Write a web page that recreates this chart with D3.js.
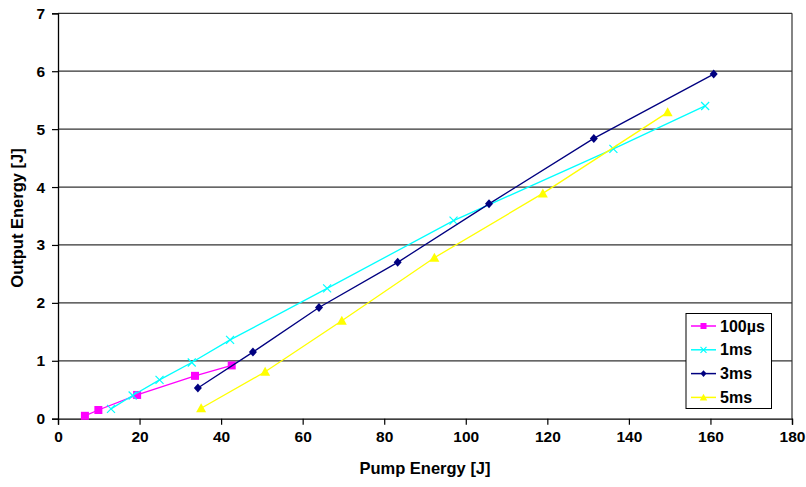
<!DOCTYPE html>
<html>
<head>
<meta charset="utf-8">
<script src="https://cdn.jsdelivr.net/npm/d3@7"></script>
<style>
  html, body { margin: 0; padding: 0; background: #fff; }
  svg { display: block; font-family: Arial, "Liberation Sans", sans-serif; }
</style>
</head>
<body>
<svg id="chart" width="806" height="487"></svg>
<script>
const xTicks = [0, 20, 40, 60, 80, 100, 120, 140, 160, 180];
const yTicks = [0, 1, 2, 3, 4, 5, 6, 7];

const seriesNames = ["100µs", "1ms", "3ms", "5ms"];
const seriesColors = ["#ff00ff", "#00ffff", "#000080", "#ffff00"];
const seriesSymbols = ["square", "cross", "diamond", "triangle"];

const x100us = [6.6, 9.9, 19.4, 33.6, 42.6];
const y100us = [0.05, 0.15, 0.41, 0.74, 0.92];

const x1ms = [13.0, 18.3, 24.9, 32.8, 42.2, 66.0, 97.0, 136.2, 158.7];
const y1ms = [0.17, 0.40, 0.67, 0.97, 1.36, 2.25, 3.42, 4.66, 5.40];

const x3ms = [34.3, 47.8, 64.0, 83.3, 105.7, 131.4, 160.8];
const y3ms = [0.53, 1.15, 1.92, 2.70, 3.71, 4.84, 5.95];

const x5ms = [35.1, 50.8, 69.6, 92.3, 118.9, 149.5];
const y5ms = [0.18, 0.81, 1.69, 2.78, 3.89, 5.29];

const seriesX = [x100us, x1ms, x3ms, x5ms];
const seriesY = [y100us, y1ms, y3ms, y5ms];

const svg = d3.select("#chart");
const pLeft = 58, pRight = 792, pTop = 13.3, pBottom = 418.7;

const x = d3.scaleLinear().domain([0, 180]).range([pLeft, pRight]);
const y = d3.scaleLinear().domain([0, 7]).range([pBottom, pTop]);

// gridlines
svg.append("g").selectAll("line").data(yTicks.filter(d => d > 0)).join("line")
  .attr("x1", pLeft).attr("x2", pRight)
  .attr("y1", d => y(d)).attr("y2", d => y(d))
  .attr("stroke", "#333").attr("stroke-width", 1.2);

// right border
svg.append("line").attr("x1", pRight).attr("x2", pRight).attr("y1", pTop).attr("y2", pBottom)
  .attr("stroke", "#333").attr("stroke-width", 1.2);

// axes
const xAxis = svg.append("g").attr("transform", `translate(0,${pBottom})`)
  .call(d3.axisBottom(x).tickValues(xTicks).tickSize(6).tickPadding(6).tickFormat(d3.format("d")));
const yAxis = svg.append("g").attr("transform", `translate(${pLeft},0)`)
  .call(d3.axisLeft(y).tickValues(yTicks).tickSize(6).tickPadding(7).tickFormat(d3.format("d")));
[xAxis, yAxis].forEach(a => {
  a.select(".domain").attr("stroke", "#000").attr("stroke-width", 1.3);
  a.selectAll(".tick line").attr("stroke", "#000").attr("stroke-width", 1.2);
  a.selectAll("text").attr("font-size", 15.5).attr("font-weight", "bold")
    .attr("font-family", "Arial, 'Liberation Sans', sans-serif").attr("fill", "#000");
});

// titles
svg.append("text").attr("x", 425).attr("y", 474).attr("text-anchor", "middle")
  .attr("font-size", 16.5).attr("font-weight", "bold").text("Pump Energy [J]");
svg.append("text").attr("transform", "translate(23,218) rotate(-90)").attr("text-anchor", "middle")
  .attr("font-size", 16.5).attr("font-weight", "bold").text("Output Energy [J]");

function drawMarker(g, sym, color, cx, cy, s) {
  if (sym === "square") {
    g.append("rect").attr("x", cx - 4 * s).attr("y", cy - 4 * s).attr("width", 8 * s).attr("height", 8 * s).attr("fill", color);
  } else if (sym === "cross") {
    g.append("path").attr("d", `M${cx-4*s},${cy-4*s}L${cx+4*s},${cy+4*s}M${cx-4*s},${cy+4*s}L${cx+4*s},${cy-4*s}`)
      .attr("stroke", color).attr("stroke-width", 1.2).attr("fill", "none");
  } else if (sym === "diamond") {
    g.append("path").attr("d", `M${cx},${cy-4.5*s}L${cx+4*s},${cy}L${cx},${cy+4.5*s}L${cx-4*s},${cy}Z`).attr("fill", color);
  } else if (sym === "triangle") {
    g.append("path").attr("d", `M${cx},${cy-5*s}L${cx+5*s},${cy+4*s}L${cx-5*s},${cy+4*s}Z`).attr("fill", color);
  }
}

const line = d3.line().x(d => x(d[0])).y(d => y(d[1]));
seriesNames.forEach((name, i) => {
  const pts = seriesX[i].map((v, j) => [v, seriesY[i][j]]);
  const g = svg.append("g");
  g.append("path").attr("d", line(pts)).attr("fill", "none")
    .attr("stroke", seriesColors[i]).attr("stroke-width", 1.3);
  pts.forEach(p => drawMarker(g, seriesSymbols[i], seriesColors[i], x(p[0]), y(p[1]), 1));
});

// legend
const lg = svg.append("g");
lg.append("rect").attr("x", 686).attr("y", 313.5).attr("width", 85.5).attr("height", 95)
  .attr("fill", "#fff").attr("stroke", "#000").attr("stroke-width", 1);
seriesNames.forEach((name, i) => {
  const cy = 326 + i * 23.8;
  lg.append("line").attr("x1", 691).attr("x2", 716).attr("y1", cy).attr("y2", cy)
    .attr("stroke", seriesColors[i]).attr("stroke-width", 1.5);
  drawMarker(lg, seriesSymbols[i], seriesColors[i], 703.5, cy, 0.75);
  lg.append("text").attr("x", 720).attr("y", cy + 5.5).attr("font-size", 16).attr("font-weight", "bold").text(name);
});
</script>
</body>
</html>
